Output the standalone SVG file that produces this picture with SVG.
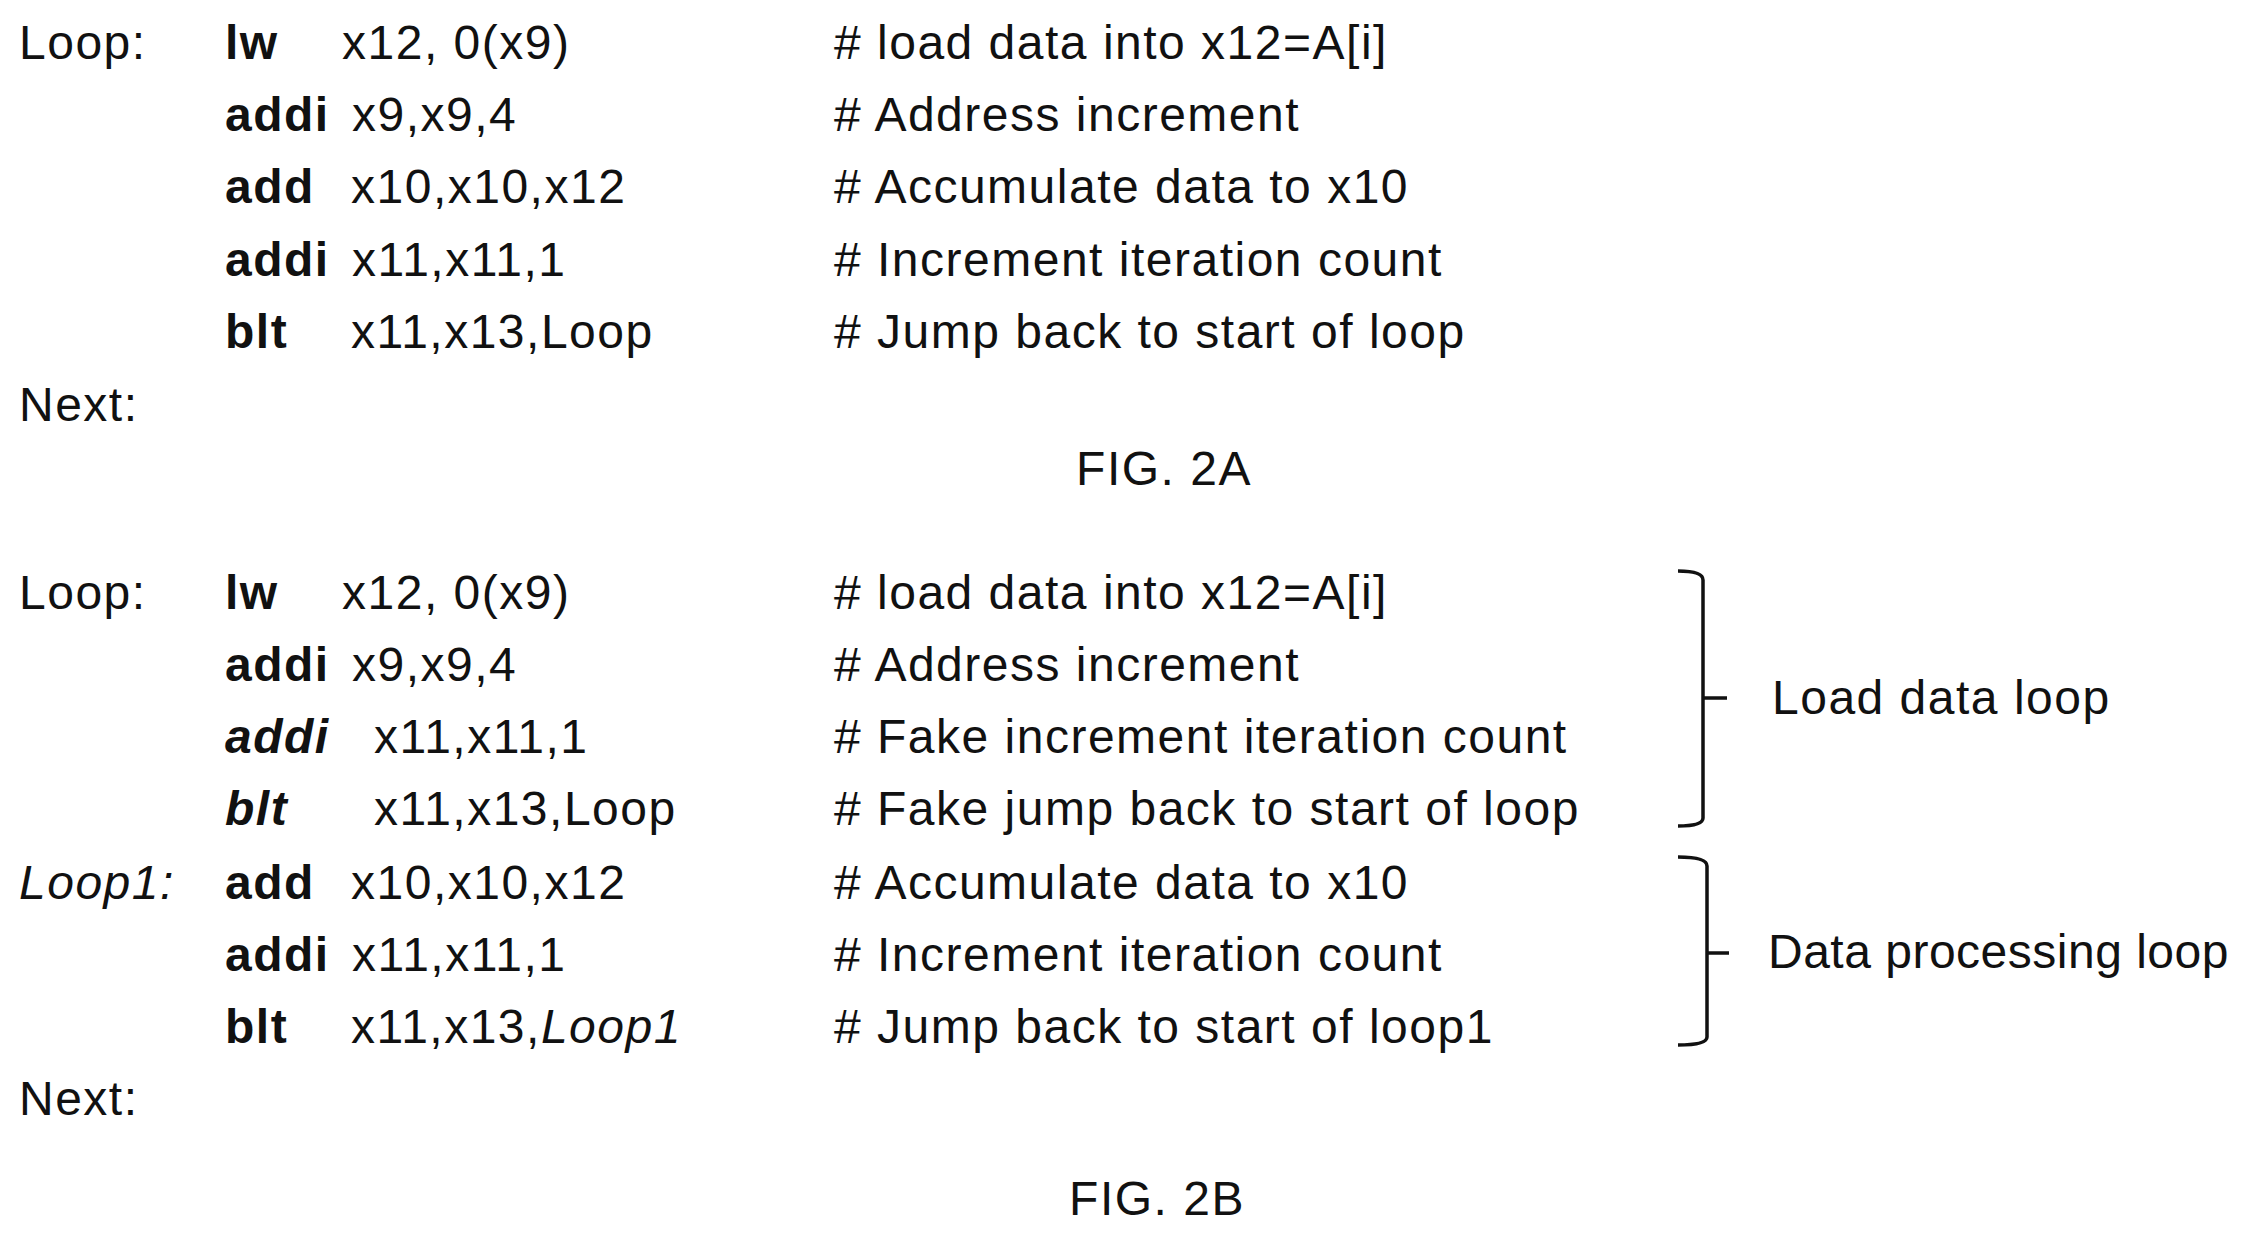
<svg xmlns="http://www.w3.org/2000/svg" width="2252" height="1237" viewBox="0 0 2252 1237">
<style>
text{font-family:"Liberation Sans",Arial,sans-serif;font-size:48px;letter-spacing:1.5px;fill:#111}
.b{font-weight:bold}
.i{font-style:italic}
.br{fill:none;stroke:#111;stroke-width:3.5}
</style>
<rect width="2252" height="1237" fill="#fff"/>
<g id="fig2a">
<text x="19" y="59">Loop:</text>
<text x="225" y="59" class="b">lw</text><text x="342" y="59">x12, 0(x9)</text><text x="834" y="59"># load data into x12=A[i]</text>
<text x="225" y="131" class="b">addi</text><text x="352" y="131">x9,x9,4</text><text x="834" y="131"># Address increment</text>
<text x="225" y="203" class="b">add</text><text x="351" y="203">x10,x10,x12</text><text x="834" y="203"># Accumulate data to x10</text>
<text x="225" y="276" class="b">addi</text><text x="352" y="276">x11,x11,1</text><text x="834" y="276"># Increment iteration count</text>
<text x="225" y="348" class="b">blt</text><text x="351" y="348">x11,x13,Loop</text><text x="834" y="348"># Jump back to start of loop</text>
<text x="19" y="421">Next:</text>
<text x="1164" y="485" text-anchor="middle">FIG. 2A</text>
</g>
<g id="fig2b">
<text x="19" y="609">Loop:</text>
<text x="225" y="609" class="b">lw</text><text x="342" y="609">x12, 0(x9)</text><text x="834" y="609"># load data into x12=A[i]</text>
<text x="225" y="681" class="b">addi</text><text x="352" y="681">x9,x9,4</text><text x="834" y="681"># Address increment</text>
<text x="225" y="753" class="b i">addi</text><text x="374" y="753">x11,x11,1</text><text x="834" y="753"># Fake increment iteration count</text>
<text x="225" y="825" class="b i">blt</text><text x="374" y="825">x11,x13,Loop</text><text x="834" y="825"># Fake jump back to start of loop</text>
<text x="19" y="899" class="i">Loop1:</text>
<text x="225" y="899" class="b">add</text><text x="351" y="899">x10,x10,x12</text><text x="834" y="899"># Accumulate data to x10</text>
<text x="225" y="971" class="b">addi</text><text x="352" y="971">x11,x11,1</text><text x="834" y="971"># Increment iteration count</text>
<text x="225" y="1043" class="b">blt</text><text x="351" y="1043">x11,x13,<tspan class="i">Loop1</tspan></text><text x="834" y="1043"># Jump back to start of loop1</text>
<text x="19" y="1115">Next:</text>
<text x="1157" y="1215" text-anchor="middle">FIG. 2B</text>
</g>
<g id="brace1">
<path class="br" d="M1678,571 Q1703,571 1703,580 V818 Q1703,826 1678,826 M1703,698 H1727"/>
<text x="1772" y="714">Load data loop</text>
</g>
<g id="brace2">
<path class="br" d="M1678,857 Q1707,857 1707,866 V1037 Q1707,1045 1678,1045 M1707,953 H1729"/>
<text x="1768" y="968" style="letter-spacing:0.5px">Data processing loop</text>
</g>
</svg>
